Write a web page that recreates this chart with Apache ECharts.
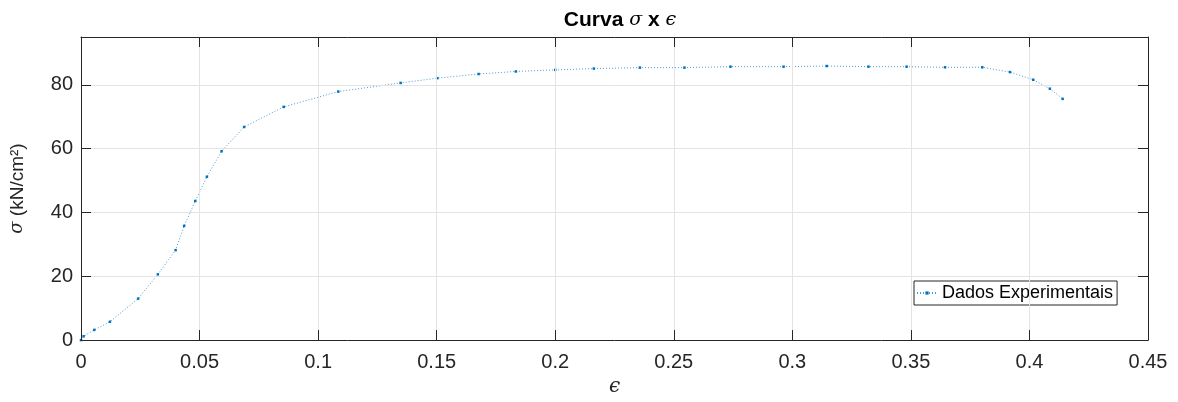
<!DOCTYPE html>
<html>
<head>
<meta charset="utf-8">
<script src="https://cdn.jsdelivr.net/npm/echarts@6/dist/echarts.min.js"></script>
<style>
  html, body { margin: 0; padding: 0; background: #fff; }
  #chart { width: 1178px; height: 402px; }
</style>
</head>
<body>
<div id="chart"></div>
<script>
// strain values (epsilon)
const strain = [
  0, 0.0011, 0.0056, 0.0122, 0.0241, 0.0324, 0.0399, 0.0435, 0.0482, 0.0531,
  0.0593, 0.0688, 0.0855, 0.1085, 0.1348, 0.1503, 0.1677, 0.1834, 0.2, 0.2163,
  0.2357, 0.2545, 0.2739, 0.2963, 0.3145, 0.3321, 0.3482, 0.3644, 0.3801, 0.3918,
  0.4016, 0.4086, 0.414
];
// stress values (kN/cm²)
const stress = [
  0, 1.2, 3.2, 5.75, 13.0, 20.6, 28.2, 35.8, 43.6, 51.2,
  59.2, 66.8, 73.1, 77.9, 80.6, 82.1, 83.4, 84.2, 84.7, 85.1,
  85.4, 85.4, 85.7, 85.7, 85.9, 85.7, 85.7, 85.5, 85.5, 84.0,
  81.6, 78.8, 75.6
];
const xTicks = { min: 0, max: 0.45, step: 0.05 };
const yTicks = { min: 0, max: 95, step: 20 };

const points = strain.map((e, i) => [e, stress[i]]);

const axisColor = "#262626";
const gridColor = "#e3e3e3";
const font = "'Liberation Sans', Arial, Helvetica, sans-serif";
const serif = "'DejaVu Serif', serif";

// box axes (top / right) only carry ticks
function boxAxis(position, t) {
  return {
    type: "value",
    position: position,
    min: t.min,
    max: t.max,
    interval: t.step,
    axisLine: { show: true, onZero: false, lineStyle: { color: axisColor, width: 1 } },
    axisTick: { show: true, inside: true, length: 10, lineStyle: { color: axisColor, width: 1 } },
    axisLabel: { show: false },
    splitLine: { show: false },
    z: 5,
  };
}

const chart = echarts.init(document.getElementById("chart"));

const option = {
  animation: false,
  textStyle: { fontFamily: font },
  title: {
    left: 615,
    top: 5,
    textAlign: "center",
    text: "{b|Curva }{s|σ}{b| x }{s|ϵ}",
    textStyle: {
      rich: {
        b: { fontSize: 21, fontWeight: "bold", color: "#000", fontFamily: font },
        s: { fontSize: 19, fontWeight: "normal", fontStyle: "italic", color: "#000", fontFamily: serif },
      },
    },
  },
  legend: {
    left: 914,
    top: 281,
    padding: [3, 4, 3, 2],
    itemWidth: 20,
    itemHeight: 4,
    itemGap: 0,
    borderColor: axisColor,
    borderWidth: 1,
    backgroundColor: "#fff",
    textStyle: { fontSize: 18, color: "#000", fontFamily: font },
    data: ["Dados Experimentais"],
  },
  grid: {
    left: 80,
    right: 30,
    top: 37,
    bottom: 51,
    containLabel: false,
  },
  xAxis: [
    {
      type: "value",
      min: xTicks.min,
      max: xTicks.max,
      interval: xTicks.step,
      name: "ϵ",
      nameLocation: "middle",
      nameGap: 30,
      nameTextStyle: { fontSize: 20, color: axisColor, fontFamily: serif, fontStyle: "italic" },
      axisLine: { show: true, onZero: false, lineStyle: { color: axisColor, width: 1 } },
      axisTick: { show: true, inside: true, length: 10, lineStyle: { color: axisColor, width: 1 } },
      axisLabel: { fontSize: 20, color: axisColor, margin: 12 },
      splitLine: { show: true, lineStyle: { color: gridColor, width: 1 } },
      z: 5,
    },
    boxAxis("top", xTicks),
  ],
  yAxis: [
    {
      type: "value",
      min: yTicks.min,
      max: yTicks.max,
      interval: yTicks.step,
      name: "{s|σ} (kN/cm²)",
      nameLocation: "middle",
      nameGap: 54,
      nameTextStyle: {
        fontSize: 19,
        color: axisColor,
        rich: {
          s: { fontSize: 18, fontStyle: "italic", fontFamily: serif, color: axisColor },
        },
      },
      axisLine: { show: true, onZero: false, lineStyle: { color: axisColor, width: 1 } },
      axisTick: { show: true, inside: true, length: 10, lineStyle: { color: axisColor, width: 1 } },
      axisLabel: { fontSize: 20, color: axisColor, margin: 8, showMaxLabel: false },
      splitLine: { show: true, lineStyle: { color: gridColor, width: 1 } },
      z: 5,
    },
    boxAxis("right", yTicks),
  ],
  series: [
    {
      name: "Dados Experimentais",
      type: "line",
      data: points,
      symbol: "rect",
      symbolSize: 2.5,
      showSymbol: true,
      itemStyle: { color: "#0072BD" },
      lineStyle: { color: "#4a9ad6", width: 1, type: [1, 2] },
    },
  ],
};

chart.setOption(option);
</script>
</body>
</html>
